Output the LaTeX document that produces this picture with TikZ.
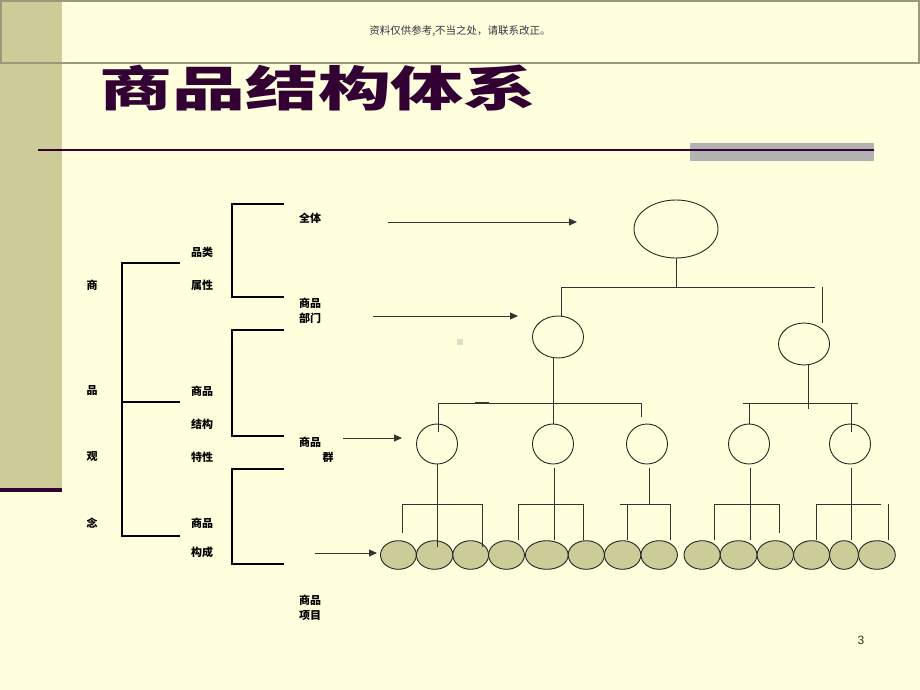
\documentclass[tikz,border=0pt]{standalone}
\usepackage{fontspec}
\newfontfamily\cjk{Noto Sans CJK SC}
\setsansfont{Liberation Sans}
\usetikzlibrary{shapes.geometric,arrows.meta}
\definecolor{bg}{HTML}{FFFFDD}
\definecolor{olive}{HTML}{CCCC99}
\definecolor{hdr}{HTML}{9A9A7A}
\definecolor{plum}{HTML}{330033}
\definecolor{graybar}{HTML}{B2B2B2}
\definecolor{wm}{HTML}{333344}
\definecolor{ink}{HTML}{333333}
\definecolor{dot}{HTML}{DDDDCC}
\begin{document}
\begin{tikzpicture}[x=1pt,y=-1pt,line width=1pt,
  lbl/.style={font=\cjk\fontsize{11}{11}\selectfont\bfseries,inner sep=0,text=black},
  br/.style={draw=black,line width=1.2pt},
  conn/.style={draw=ink,line width=1pt},
  arr/.style={draw=ink,line width=1pt,-{Triangle[length=8pt,width=7pt]}},
  oval/.style={ellipse,draw=black!85,line width=0.9pt,inner sep=0},
  leaf/.style={oval,fill=olive,minimum height=28.6pt}]
\fill[bg] (0,0) rectangle (920,690);
\useasboundingbox (0,0) rectangle (920,690);
% left strip
\fill[olive] (0,0) rectangle (62,490);
\fill[plum] (0,488) rectangle (62,492);
% header box
\draw[hdr,line width=2pt] (1,1) rectangle (919,63);
\node[font=\cjk\fontsize{10.5}{11}\selectfont,text=wm] (wmk) at (460,31) {资料仅供参考,不当之处，请联系改正。};
% title
\node[font=\cjk\fontsize{48}{50}\selectfont\bfseries,text=plum,xscale=1.52,inner sep=0] (title) at (318,88) {商品结构体系};
% rule
\fill[graybar] (690,143) rectangle (874,161);
\draw[plum,line width=2pt] (38,150) -- (874,150);
% small square
\fill[dot] (457,339) rectangle (463,345);
% page number
\node[font=\sffamily\fontsize{12}{12}\selectfont,text=ink] (pg) at (861,640) {3};

% left labels
\node[lbl] (s1) at (92,285) {商};
\node[lbl] (s2) at (92,391) {品};
\node[lbl] (s3) at (92,457) {观};
\node[lbl] (s4) at (92,523) {念};
\node[lbl] (b1a) at (202,252) {品类};
\node[lbl] (b1b) at (202,285) {属性};
\node[lbl] (b2a) at (202,391) {商品};
\node[lbl] (b2b) at (202,424) {结构};
\node[lbl] (b2c) at (202,457) {特性};
\node[lbl] (b3a) at (202,523) {商品};
\node[lbl] (b3b) at (202,552) {构成};
\node[lbl] (c1) at (310,218) {全体};
\node[lbl] (c2a) at (310,303) {商品};
\node[lbl] (c2b) at (310,318) {部门};
\node[lbl] (c3a) at (310,442) {商品};
\node[lbl] (c3b) at (328,457) {群};
\node[lbl] (c4a) at (310,600) {商品};
\node[lbl] (c4b) at (310,616) {项目};

% brackets
\draw[br] (180,263) -- (122,263) -- (122,536) -- (180,536);
\draw[br] (122,402) -- (180,402);
\draw[br] (284,204) -- (232,204) -- (232,297) -- (284,297);
\draw[br] (284,330) -- (232,330) -- (232,436) -- (284,436);
\draw[br] (284,469) -- (232,469) -- (232,564) -- (284,564);

% tree nodes
\node[oval,minimum width=84pt,minimum height=58pt] (top) at (676,229) {};
\node[oval,minimum width=51pt,minimum height=42pt] (m1) at (558,337) {};
\node[oval,minimum width=51pt,minimum height=42pt] (m2) at (804,344) {};
\node[oval,minimum width=41pt,minimum height=40pt] (g1) at (437,444) {};
\node[oval,minimum width=41pt,minimum height=40pt] (g2) at (553,444) {};
\node[oval,minimum width=41pt,minimum height=40pt] (g3) at (647,444) {};
\node[oval,minimum width=41pt,minimum height=40pt] (g4) at (749,444) {};
\node[oval,minimum width=41pt,minimum height=40pt] (g5) at (850,444) {};
\foreach \n/\cx/\rx in {1/398.4/17.9,2/434.6/18.2,3/470.7/17.9,4/506.5/17.9,5/546.8/21.4,6/586.3/18.1,7/622.6/18.2,8/659.2/18.2,9/702.1/18.1,10/738.6/18.4,11/775.3/18.2,12/811.6/18,13/844/14.4,14/876.9/18.4}
  \node[leaf,minimum width=2*\rx pt] (l\n) at (\cx,555) {};

% arrows
\coordinate (a1s) at (388,222); \coordinate (a1e) at (577,222);
\coordinate (a2s) at (373,316); \coordinate (a2e) at (518,316);
\coordinate (a3s) at (343,438); \coordinate (a3e) at (402,438);
\coordinate (a4s) at (315,553); \coordinate (a4e) at (377,553);
\draw[arr] (a1s) -- (a1e);
\draw[arr] (a2s) -- (a2e);
\draw[arr] (a3s) -- (a3e);
\draw[arr] (a4s) -- (a4e);

% level 1 connectors
\coordinate (h1L) at (561,287); \coordinate (h1R) at (815,287); \coordinate (rv) at (822,287);
\draw[conn] (top.south) -- (top.south |- h1L);
\draw[conn] (h1L) -- (h1R);
\draw[conn] (h1L) -- (m1.north -| h1L);
\draw[conn] (rv) -- (rv |- m2.north);

% level 2 connectors (left)
\coordinate (h2L) at (438,403); \coordinate (h2R) at (641,403);
\draw[conn] (m1.south -| g2.north) -- (g2.north);
\draw[conn] (h2L) -- (h2R);
\draw[conn,line width=2pt] (475,403) -- (489,403);
\draw[conn] (h2L) -- ++(0,29);
\draw[conn] (h2R) -- ++(0,14);
% level 2 connectors (right)
\coordinate (h3L) at (743,403); \coordinate (h3R) at (858,403);
\draw[conn] (h3L) -- (h3R);
\draw[conn] ([xshift=4pt]m2.south) -- ++(0,44);
\draw[conn] (749,403) -- (g4.north);
\draw[conn] (851,403) -- (851,432);

% level 3 connectors
\draw[conn] (g1.south) -- (437,547);
\draw[conn] (402,533) -- (402,504) -- (482,504) -- (482,547);
\draw[conn] (554,468) -- (554,540);
\draw[conn] (518,540) -- (518,504) -- (583,504) -- (583,540);
\draw[conn] (649,468) -- (649,504);
\draw[conn] (620,504) -- (670,504) -- (670,540);
\draw[conn] (627,504) -- (627,540);
\draw[conn] (750,468) -- (750,540);
\draw[conn] (714,540) -- (714,504) -- (779,504) -- (779,533);
\draw[conn] (851,468) -- (851,540);
\draw[conn] (816,540) -- (816,504) -- (881,504);
\draw[conn] (888,504) -- (888,540);
\end{tikzpicture}
\end{document}
